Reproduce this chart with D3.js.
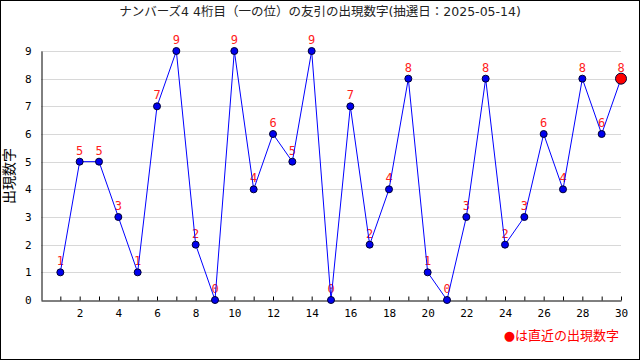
<!DOCTYPE html>
<html>
<head>
<meta charset="utf-8">
<script src="https://cdn.jsdelivr.net/npm/d3@7"></script>
<style>
  body { margin: 0; background: #fff; }
  svg { display: block; font-family: "DejaVu Sans", "Noto Sans CJK JP", sans-serif; }
</style>
</head>
<body>
<svg id="chart" width="640" height="360"></svg>
<script>
const title = 'ナンバーズ4 4桁目（一の位）の友引の出現数字(抽選日：2025-05-14)';
const yLabel = '出現数字';
const legendText = '●は直近の出現数字';
const draws = d3.range(1, 31);
const digits = [1, 5, 5, 3, 1, 7, 9, 2, 0, 9, 4, 6, 5, 9, 0, 7, 2, 4, 8, 1, 0, 3, 8, 2, 3, 6, 4, 8, 6, 8];
const xTickLabels = [2, 4, 6, 8, 10, 12, 14, 16, 18, 20, 22, 24, 26, 28, 30];
const yTickLabels = [0, 1, 2, 3, 4, 5, 6, 7, 8, 9];

const W = 640, H = 360;
const margin = { left: 41, right: 19, top: 51, bottom: 60 };
const svg = d3.select('#chart');

// frame
svg.append('rect')
  .attr('x', 0.5).attr('y', 0.5)
  .attr('width', W - 1).attr('height', H - 1)
  .attr('fill', '#fff').attr('stroke', '#000');

const x = d3.scaleLinear().domain([0, 30]).range([margin.left, W - margin.right]);
const y = d3.scaleLinear().domain([0, 9]).range([H - margin.bottom, margin.top]);

// gridlines
svg.append('g')
  .selectAll('line')
  .data(yTickLabels.filter(d => d > 0))
  .enter().append('line')
  .attr('x1', x(0)).attr('x2', x(30))
  .attr('y1', d => Math.round(y(d)) + 0.5).attr('y2', d => Math.round(y(d)) + 0.5)
  .attr('stroke', '#d8d8d8');

// x axis
const xAxis = svg.append('g')
  .attr('transform', `translate(0,${Math.round(y(0)) + 0.5})`)
  .call(d3.axisBottom(x).tickValues(draws).tickSize(-4).tickSizeOuter(0)
    .tickFormat(d => xTickLabels.includes(d) ? d : ''));
xAxis.select('.domain').attr('stroke', '#000');
xAxis.selectAll('.tick line').attr('stroke', '#000');
xAxis.selectAll('.tick text')
  .attr('y', 9).attr('font-size', 11).attr('fill', '#000')
  .attr('font-family', '"DejaVu Sans Mono", monospace');

// y axis
const yAxis = svg.append('g')
  .attr('transform', `translate(${margin.left + 0.5},0)`)
  .call(d3.axisLeft(y).tickValues(yTickLabels).tickSize(0).tickSizeOuter(0).tickPadding(10));
yAxis.select('.domain').attr('stroke', '#000');
yAxis.selectAll('.tick text')
  .attr('font-size', 11).attr('fill', '#000')
  .attr('font-family', '"DejaVu Sans Mono", monospace');

// title
svg.append('text')
  .attr('x', 320).attr('y', 16)
  .attr('text-anchor', 'middle')
  .attr('font-size', 12.5).attr('fill', '#222')
  .text(title);

// y label
svg.append('text')
  .attr('transform', 'translate(14,176) rotate(-90)')
  .attr('text-anchor', 'middle')
  .attr('font-size', 14).attr('fill', '#000')
  .text(yLabel);

// value labels
svg.append('g')
  .selectAll('text')
  .data(digits)
  .enter().append('text')
  .attr('x', (d, i) => x(draws[i]))
  .attr('y', d => y(d) - 7)
  .attr('text-anchor', 'middle')
  .attr('font-size', 12).attr('fill', '#ff2020')
  .attr('font-family', '"DejaVu Sans Mono", monospace')
  .text(d => d);

// line
const line = d3.line().x((d, i) => x(draws[i])).y(d => y(d));
svg.append('path')
  .datum(digits)
  .attr('d', line)
  .attr('fill', 'none')
  .attr('stroke', '#0000ff')
  .attr('stroke-width', 1);

// points
svg.append('g')
  .selectAll('circle')
  .data(digits)
  .enter().append('circle')
  .attr('cx', (d, i) => x(draws[i]))
  .attr('cy', d => y(d))
  .attr('r', (d, i) => i === digits.length - 1 ? 5.5 : 3.5)
  .attr('fill', (d, i) => i === digits.length - 1 ? '#ff0000' : '#0000ee')
  .attr('stroke', '#000033')
  .attr('stroke-width', 1);

// legend
svg.append('text')
  .attr('x', 619).attr('y', 340)
  .attr('text-anchor', 'end')
  .attr('font-size', 13).attr('fill', '#ff0000')
  .text(legendText);
</script>
</body>
</html>
